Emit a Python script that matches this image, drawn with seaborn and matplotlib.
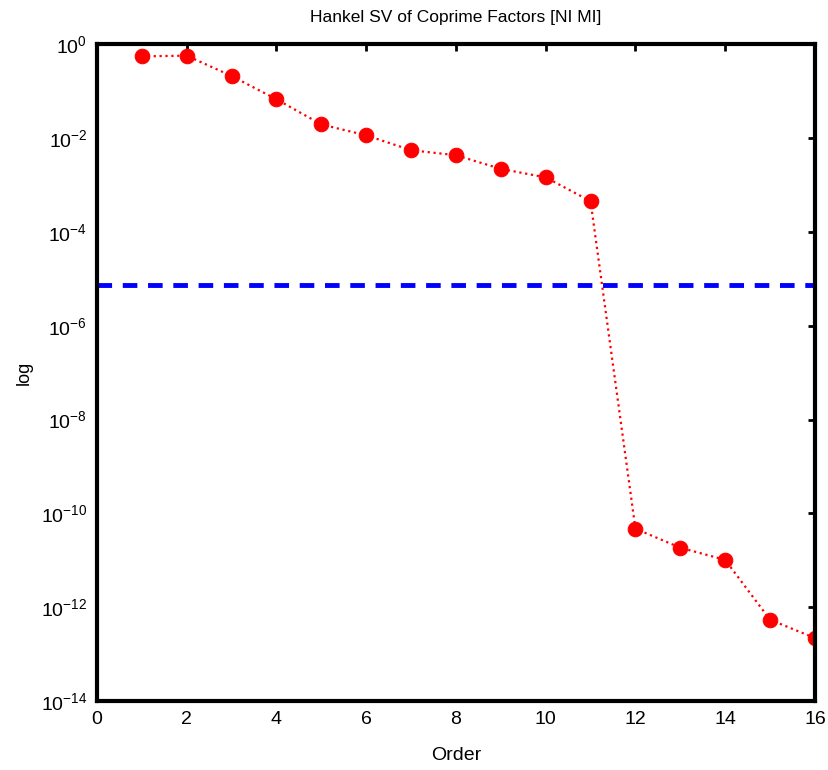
import numpy as np
import pandas as pd
import seaborn as sns
import matplotlib.pyplot as plt
from matplotlib.ticker import FixedLocator, NullLocator

# Hankel singular values
order = [1, 2, 3, 4, 5, 6, 7, 8, 9, 10, 11, 12, 13, 14, 15, 16]
hsv = [0.55, 0.57, 0.21, 0.067, 0.0195, 0.0114, 0.0055, 0.0043, 0.0022,
       0.00145, 4.5e-4, 4.7e-11, 1.85e-11, 1.02e-11, 5.4e-13, 2.2e-13]
tolerance = 7.2e-6

xticks = [0, 2, 4, 6, 8, 10, 12, 14, 16]
yticks = [1e0, 1e-2, 1e-4, 1e-6, 1e-8, 1e-10, 1e-12, 1e-14]

sns.set_style("white")
plt.rcParams['font.family'] = ['Liberation Sans', 'DejaVu Sans']
plt.rcParams['mathtext.fontset'] = 'custom'
plt.rcParams['mathtext.rm'] = 'Liberation Sans'
plt.rcParams['mathtext.default'] = 'rm'
plt.rcParams['text.color'] = 'black'
plt.rcParams['axes.labelcolor'] = 'black'
plt.rcParams['xtick.color'] = 'black'
plt.rcParams['ytick.color'] = 'black'

df = pd.DataFrame({"Order": order, "hsv": hsv})

fig = plt.figure(figsize=(8.29, 7.70), dpi=100)
ax = fig.add_axes([0.117, 0.0896, 0.866, 0.853])

sns.lineplot(data=df, x="Order", y="hsv", ax=ax, color="red", linestyle=":",
             linewidth=1.6, marker="o", markersize=10.5, markeredgecolor="red")
ax.axhline(tolerance, color="blue", linestyle=(0, (3, 2.2)), linewidth=3.5)

ax.set_yscale("log")
ax.set_xlim(0, 16)
ax.set_ylim(1e-14, 1e0)
ax.xaxis.set_major_locator(FixedLocator(xticks))
ax.yaxis.set_major_locator(FixedLocator(yticks))
ax.yaxis.set_minor_locator(NullLocator())
ax.set_yticklabels([f"10$^{{{int(np.log10(t))}}}$" for t in yticks])

ax.tick_params(direction="in", length=5, width=2, top=True, right=True,
               labelsize=14, pad=7, colors="black")
for sp in ax.spines.values():
    sp.set_linewidth(3)
    sp.set_color("black")

ax.set_xlabel("Order", fontsize=14, labelpad=14)
ax.set_ylabel("log", fontsize=13, labelpad=6)
ax.set_title("Hankel SV of Coprime Factors [NI MI]", fontsize=12.5, pad=16)

fig.savefig("out.png", dpi=100)
